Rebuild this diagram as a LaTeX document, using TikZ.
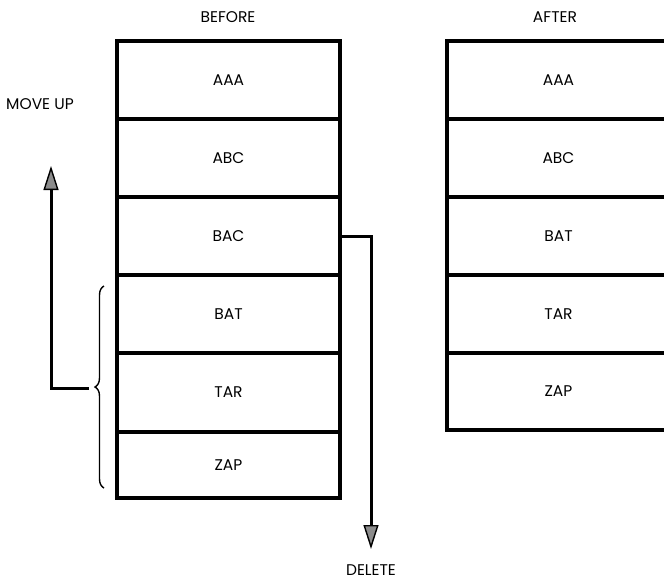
\documentclass[tikz,border=0pt]{standalone}
\usepackage{fontspec}
\setmainfont{Poppins}
\usetikzlibrary{arrows.meta, decorations.pathreplacing}
\begin{document}
\begin{tikzpicture}[x=1pt, y=-1pt,
		font=\fontsize{15.5}{18}\selectfont,
		cell/.style={draw, line width=3.3pt, minimum width=223pt, inner sep=0pt},
		pointer/.style={-{Triangle[length=24pt, width=15pt, fill=black!45, line width=1.4pt]}, draw, line width=3pt}]
		\useasboundingbox (0,0) rectangle (664,582);
		% stack before the deletion
		\foreach \word/\top/\bot [count = \k] in {AAA/41/119, ABC/119/197, BAC/197/275, BAT/275/353, TAR/353/432, ZAP/432/498}{
				\node[cell, minimum height=\bot pt-\top pt] (L\k) at (228.5, {(\top+\bot)/2}) {\word};
			}
		% stack after the deletion
		\foreach \word/\top/\bot [count = \k] in {AAA/41/119, ABC/119/197, BAT/197/275, TAR/275/353, ZAP/353/430}{
				\node[cell, minimum height=\bot pt-\top pt] (R\k) at (558.5, {(\top+\bot)/2}) {\word};
			}
		\node (before) at (228, 17) {BEFORE};
		\node (after) at (555, 17) {AFTER};
		\node (moveup) at (40, 104) {MOVE UP};
		\node (delete) at (371, 570) {DELETE};
		% brace over the rows that move
		\draw[line width=1.4pt, decorate, decoration={brace, amplitude=9pt}] (104, 488) -- (104, 286);
		\coordinate (bracetip) at (89, 388);
		\coordinate (uptip) at (51, 166);
		\coordinate (downtip) at (371, 549);
		\draw[pointer] (bracetip) -| (uptip);
		\draw[pointer] (L3.east) -| (downtip);
	\end{tikzpicture}
\end{document}
